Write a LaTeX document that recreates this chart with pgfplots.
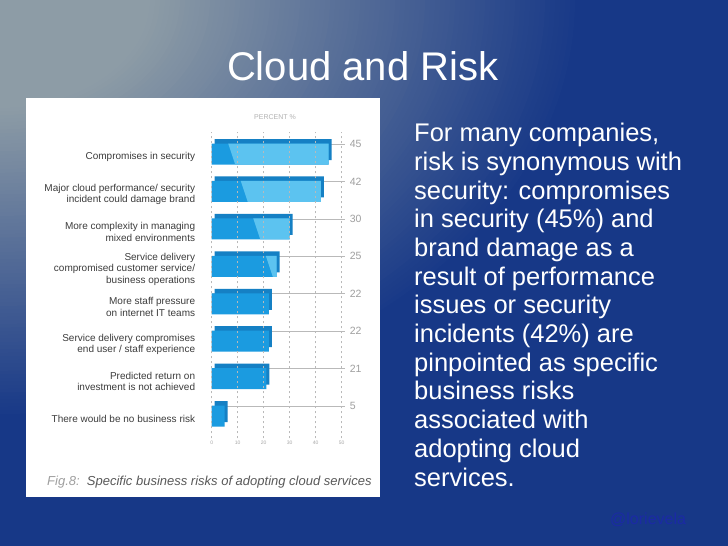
\documentclass[border=0pt]{standalone}
\usepackage{fontspec}
\setmainfont{Liberation Sans}
\usepackage{pgfplots}
\pgfplotsset{compat=1.18}
\usepackage{pgfplotstable}

\definecolor{bgGray}{HTML}{8D9CA6}
\definecolor{bgBlue}{HTML}{173887}
\definecolor{bardark}{HTML}{1B9BE0}
\definecolor{barlight}{HTML}{5CC3F0}
\definecolor{bardeep}{HTML}{1580C4}
\definecolor{labelgray}{HTML}{3C3C3C}
\definecolor{handle}{HTML}{1B2AA5}

% lighter right-hand part of the bar fronts, split along a diagonal
\newcommand\barhighlight{%
  \pgfsetfillcolor{barlight}%
  \pgfpathmoveto{\pgfplotspointaxisxy{2.9}{8}}%
  \pgfpathlineto{\pgfplotspointaxisxy{41.4}{0}}%
  \pgfpathlineto{\pgfplotspointaxisxy{90}{0}}%
  \pgfpathlineto{\pgfplotspointaxisxy{90}{8}}%
  \pgfpathclose\pgfusepath{fill}}

\pgfplotstableread{
idx val
7 45
6 42
5 30
4 25
3 22
2 22
1 21
0 5
}\risktable

\begin{document}
\begin{tikzpicture}[x=1pt,y=1pt]
\useasboundingbox (0,0) rectangle (728,546);
% background: grey at the top left corner fading into dark blue
\begin{scope}
  \clip (0,0) rectangle (728,546);
  \fill[bgBlue] (0,0) rectangle (728,546);
  \foreach \r in {580,575,...,150}{
    \pgfmathtruncatemacro\p{min(100,max(0,(\r-150)/430*100))}
    \fill[bgBlue!\p!bgGray] (0,546) ellipse [x radius=\r pt, y radius=0.72*\r pt];
  }
\end{scope}

% title
\node[anchor=base, text=white, inner sep=0pt, font=\fontsize{40}{48}\selectfont]
  at (362.7,465) {Cloud and Risk};

% white panel
\fill[white] (26,49) rectangle (380,447.7);
\node[text=gray!60, inner sep=0pt, font=\fontsize{7}{8}\selectfont] at (275,429) {PERCENT \%};
\node[anchor=base west, inner sep=0pt, font=\fontsize{13}{15}\selectfont\itshape]
  at (47,60.3) {\textcolor{gray!75}{Fig.8:}\ \ \textcolor{black!65}{Specific business risks of adopting cloud services}};

\begin{axis}[
  at={(201.3pt,107.5pt)}, anchor=south west, scale only axis,
  width=145.6pt, height=306.9pt,
  xmin=-4, xmax=52, ymin=-0.6, ymax=7.6,
  axis line style={draw=none}, major tick length=0pt,
  xtick={0,10,...,50}, ytick={0,...,7},
  yticklabels={
    There would be no business risk,
    {Predicted return on\\investment is not achieved},
    {Service delivery compromises\\end user / staff experience},
    {More staff pressure\\on internet IT teams},
    {Service delivery\\compromised customer service/\\business operations},
    {More complexity in managing\\mixed environments},
    {Major cloud performance/ security\\incident could damage brand},
    Compromises in security},
  xmajorgrids, grid style={gray!55, line width=0.5pt, dash pattern=on 2.5pt off 2.5pt},
  axis on top, clip=false,
  /pgf/number format/assume math mode=true,
  xticklabel style={font=\fontsize{5}{6}\selectfont, text=gray!70, inner sep=1pt, yshift=-1pt},
  yticklabel style={font=\fontsize{10}{11.5}\selectfont, text=labelgray, align=right, inner sep=0pt, xshift=-6pt, yshift=-3pt},
]
% leader lines with the values at their ends
\addplot[xcomb, draw=gray!55, line width=0.5pt,
  nodes near coords, point meta=explicit, nodes near coords align=horizontal,
  every node near coord/.append style={inner sep=0pt, xshift=4.5pt, font=\fontsize{10.5}{12}\selectfont, text=gray!75}]
  table[x expr=51.3, y expr=\thisrow{idx}+0.27, meta=val] {\risktable};
% depth of the bars
\addplot[xbar, bar width=21pt, bar shift=0pt, fill=bardeep, draw=none, xshift=3pt, yshift=4.5pt]
  table[x=val, y=idx] {\risktable};
% front faces
\addplot[xbar, bar width=21pt, bar shift=0pt, fill=bardark, draw=none,
  path picture={\barhighlight}]
  table[x=val, y=idx] {\risktable};
\end{axis}

% text on the right
\foreach \t [count=\i from 0] in {
  {For many companies,},
  {risk is synonymous with},
  {security: compromises},
  {in security (45\%) and},
  {brand damage as a},
  {result of performance},
  {issues or security},
  {incidents (42\%) are},
  {pinpointed as specific},
  {business risks},
  {associated with},
  {adopting cloud},
  {services.}}
  \node[anchor=base west, inner sep=0pt, text=white, font=\fontsize{25.5}{28.7}\selectfont]
    at (414,{546-141.7-28.7*\i}) {\t};

\node[anchor=base west, inner sep=0pt, text=handle, font=\fontsize{16}{19}\selectfont]
  at (610,21) {@lorievela};
\end{tikzpicture}
\end{document}
